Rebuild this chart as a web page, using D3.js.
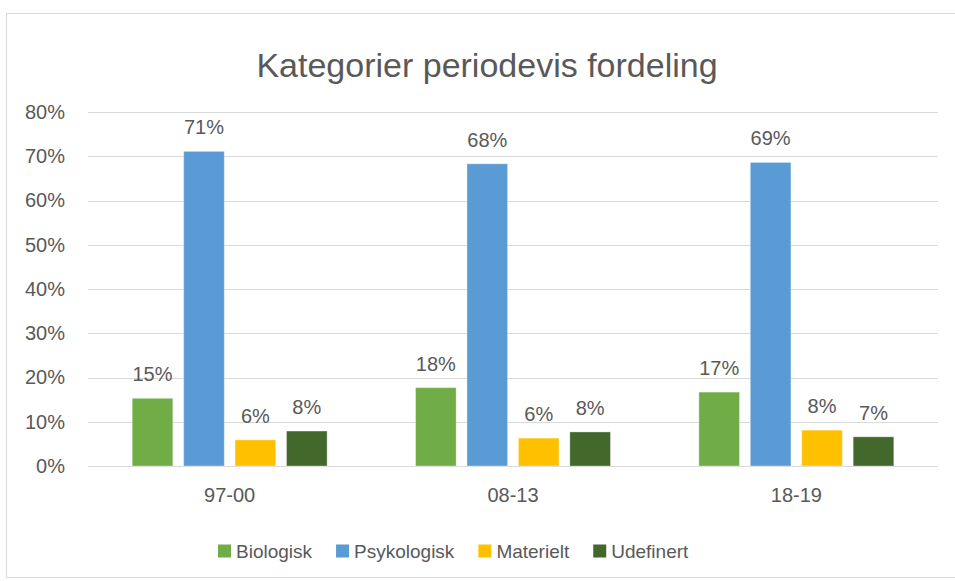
<!DOCTYPE html>
<html>
<head>
<meta charset="utf-8">
<script src="https://cdn.jsdelivr.net/npm/d3@7"></script>
<style>
  body { margin: 0; background: #fff; }
  svg text { font-family: "Liberation Sans", "Noto Sans", sans-serif; fill: #595959; }
</style>
</head>
<body>
<div id="chart"></div>
<script>
// data
var categories = ["97-00", "08-13", "18-19"];
var seriesNames = ["Biologisk", "Psykologisk", "Materielt", "Udefinert"];
var biologisk   = [0.153, 0.177, 0.167];
var psykologisk = [0.711, 0.683, 0.686];
var materielt   = [0.059, 0.063, 0.081];
var udefinert   = [0.079, 0.077, 0.066];
var yTicks = [0, 0.1, 0.2, 0.3, 0.4, 0.5, 0.6, 0.7, 0.8];

var colors = ["#70AD47", "#5B9BD5", "#FFC000", "#43682B"];
var seriesValues = [biologisk, psykologisk, materielt, udefinert];

var width = 955, height = 581;
var plot = {left: 88, right: 938, top: 112, bottom: 466};

var svg = d3.select("#chart").append("svg")
    .attr("width", width)
    .attr("height", height);

// chart area border (cut off on the right, like the screenshot)
svg.append("rect")
    .attr("x", 6.5).attr("y", 13.5)
    .attr("width", 980).attr("height", 564)
    .attr("fill", "none")
    .attr("stroke", "#D9D9D9");

svg.append("text")
    .attr("x", 487).attr("y", 77)
    .attr("text-anchor", "middle")
    .style("font-size", "34px")
    .text("Kategorier periodevis fordeling");

var y = d3.scaleLinear().domain([0, 0.8]).range([plot.bottom, plot.top]);

var x0 = d3.scaleBand()
    .domain(categories)
    .range([plot.left, plot.right])
    .paddingInner(0.312)
    .paddingOuter(0.156);

var x1 = d3.scaleBand()
    .domain(seriesNames)
    .range([0, x0.bandwidth()])
    .paddingInner(0.21);

// gridlines
svg.append("g").selectAll("line")
    .data(yTicks)
    .enter().append("line")
    .attr("x1", plot.left).attr("x2", plot.right)
    .attr("y1", function(d) { return Math.round(y(d)) + 0.5; })
    .attr("y2", function(d) { return Math.round(y(d)) + 0.5; })
    .attr("stroke", "#D9D9D9")
    .attr("stroke-width", 1.2);

// y axis labels
var yAxis = d3.axisLeft(y)
    .tickValues(yTicks)
    .tickFormat(d3.format(".0%"))
    .tickSize(0)
    .tickPadding(23);

var gy = svg.append("g")
    .attr("transform", "translate(" + plot.left + ",0)")
    .call(yAxis);
gy.select(".domain").remove();
gy.selectAll("text")
    .style("font-size", "20px")
    .attr("fill", "#595959")
    .style("font-family", "Liberation Sans, Noto Sans, sans-serif");

// x axis labels
var xAxis = d3.axisBottom(x0).tickSize(0).tickPadding(22);
var gx = svg.append("g")
    .attr("transform", "translate(0," + plot.bottom + ")")
    .call(xAxis);
gx.select(".domain").remove();
gx.selectAll("text")
    .style("font-size", "20px")
    .attr("fill", "#595959")
    .style("font-family", "Liberation Sans, Noto Sans, sans-serif");

// build rows for bars
var rows = [];
categories.forEach(function(c, i) {
    seriesNames.forEach(function(s, j) {
        rows.push({cat: c, name: s, value: seriesValues[j][i], color: colors[j]});
    });
});

var bars = svg.append("g").selectAll("g")
    .data(rows)
    .enter().append("g")
    .attr("transform", function(d) { return "translate(" + (x0(d.cat) + x1(d.name)) + ",0)"; });

bars.append("rect")
    .attr("x", 0)
    .attr("y", function(d) { return y(d.value); })
    .attr("width", x1.bandwidth())
    .attr("height", function(d) { return plot.bottom - y(d.value); })
    .attr("fill", function(d) { return d.color; })
    .attr("stroke", "#ffffff")
    .attr("stroke-opacity", 0.35)
    .attr("stroke-width", 1);

bars.append("text")
    .attr("x", x1.bandwidth() / 2)
    .attr("y", function(d) { return y(d.value) - 17; })
    .attr("text-anchor", "middle")
    .style("font-size", "20px")
    .text(function(d) { return d3.format(".0%")(d.value); });

// legend
var legend = svg.append("g").attr("transform", "translate(0,551)");
var lx = 218;
seriesNames.forEach(function(s, j) {
    var item = legend.append("g").attr("transform", "translate(" + lx + ",0)");
    item.append("rect")
        .attr("x", 0).attr("y", -6.5)
        .attr("width", 13).attr("height", 13)
        .attr("fill", colors[j]);
    var t = item.append("text")
        .attr("x", 18).attr("y", 7)
        .style("font-size", "19px")
        .text(s);
    lx += 18 + t.node().getComputedTextLength() + 24;
});
</script>
</body>
</html>
